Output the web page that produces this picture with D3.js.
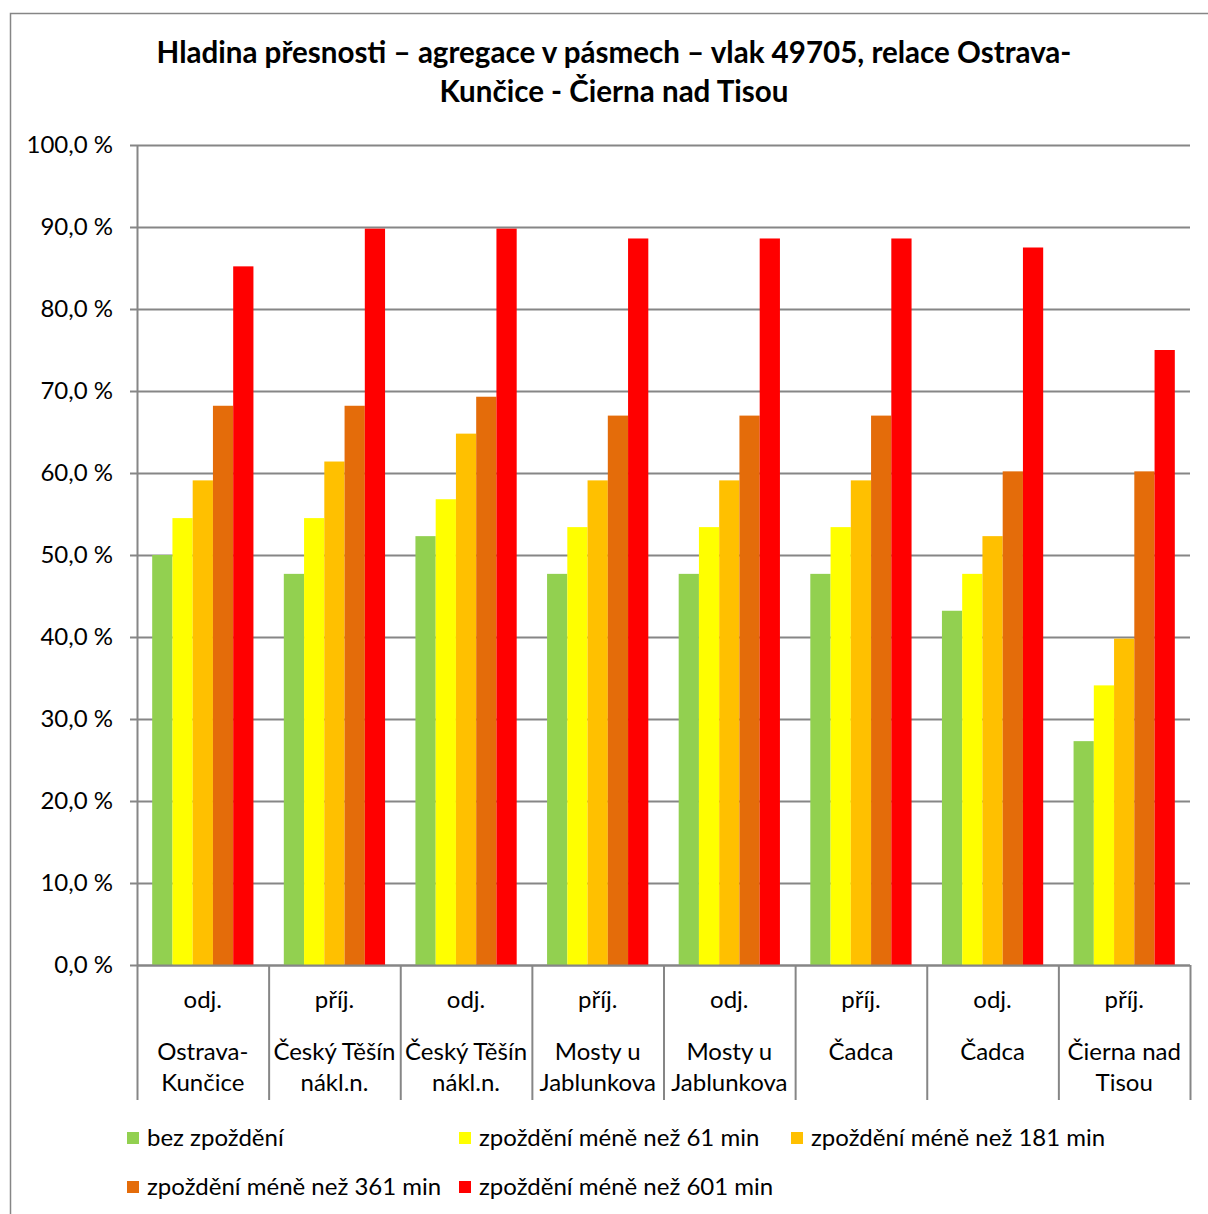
<!DOCTYPE html>
<html><head><meta charset="utf-8">
<script src="https://cdn.jsdelivr.net/npm/d3@7"></script>
<style>body{margin:0;background:#fff}svg{display:block}text{font-family:Lato,"Open Sans",sans-serif;fill:#000}</style>
</head><body><svg id="c" width="1208" height="1214"></svg>
<script>
const titleLines = ["Hladina přesnosti – agregace v pásmech – vlak 49705, relace Ostrava-", "Kunčice - Čierna nad Tisou"];
const kinds = ["odj.", "příj.", "odj.", "příj.", "odj.", "příj.", "odj.", "příj."];
const stations = [["Ostrava-","Kunčice"],["Český Těšín","nákl.n."],["Český Těšín","nákl.n."],["Mosty u","Jablunkova"],["Mosty u","Jablunkova"],["Čadca"],["Čadca"],["Čierna nad","Tisou"]];
const seriesNames = ["bez zpoždění","zpoždění méně než 61 min","zpoždění méně než 181 min","zpoždění méně než 361 min","zpoždění méně než 601 min"];
const seriesColors = ["#92D050","#FFFF00","#FFC000","#E46C0A","#FF0000"];
const bez = [50.0, 47.7, 52.3, 47.7, 47.7, 47.7, 43.2, 27.3];
const lt61 = [54.5, 54.5, 56.8, 53.4, 53.4, 53.4, 47.7, 34.1];
const lt181 = [59.1, 61.4, 64.8, 59.1, 59.1, 59.1, 52.3, 39.8];
const lt361 = [68.2, 68.2, 69.3, 67.0, 67.0, 67.0, 60.2, 60.2];
const lt601 = [85.2, 89.8, 89.8, 88.6, 88.6, 88.6, 87.5, 75.0];
const yTicks = [0,10,20,30,40,50,60,70,80,90,100];

const values = [bez, lt61, lt181, lt361, lt601];
const svg = d3.select("#c");
svg.append("rect").attr("x",10.5).attr("y",13.5).attr("width",1210).attr("height",1220).attr("fill","#fff").attr("stroke","#868686").attr("stroke-width",1.5);

const L=137, R=1190, T=145, B=965;
const FS = 24;
const y = d3.scaleLinear().domain([0,100]).range([B,T]);
const x = d3.scaleBand().domain(d3.range(kinds.length)).range([L,R]).paddingInner(0).paddingOuter(0);
const xs = d3.scaleBand().domain(d3.range(seriesNames.length)).range([0,x.bandwidth()]).paddingInner(0).paddingOuter(0.75);

// title
const tg = svg.append("g");
titleLines.forEach((t,i)=>{
  tg.append("text").attr("x",614).attr("y",63+i*39).attr("text-anchor","middle")
    .attr("font-weight","bold").attr("font-size",25).text(t);
});
const w0 = tg.select("text").node().getComputedTextLength();
tg.selectAll("text").attr("font-size", 25*915/w0);

// gridlines
const fmt = v => d3.format(".1f")(v).replace(".",",")+" %";
svg.append("g").selectAll("line").data(yTicks).join("line")
  .attr("x1",130).attr("x2",R).attr("y1",d=>Math.round(y(d))+0.5).attr("y2",d=>Math.round(y(d))+0.5)
  .attr("stroke","#868686").attr("stroke-width",2);
svg.append("g").selectAll("text").data(yTicks).join("text")
  .attr("x",113).attr("y",d=>y(d)).attr("dy","0.35em").attr("text-anchor","end").attr("font-size",FS).text(fmt);
svg.append("line").attr("x1",L+0.5).attr("x2",L+0.5).attr("y1",T).attr("y2",B).attr("stroke","#868686").attr("stroke-width",2);

// bars
const bg = svg.append("g");
values.forEach((arr,s)=>{
  bg.append("g").selectAll("rect").data(arr).join("rect")
    .attr("x",(d,i)=>x(i)+xs(s)).attr("width",xs.bandwidth())
    .attr("y",d=>y(d)).attr("height",d=>B-y(d)).attr("fill",seriesColors[s]);
});

// x axis
svg.append("line").attr("x1",L).attr("x2",R).attr("y1",B+0.5).attr("y2",B+0.5).attr("stroke","#868686").attr("stroke-width",2);
const bounds = d3.range(kinds.length+1).map(i=> i<kinds.length ? x(i) : x(i-1)+x.bandwidth());
svg.append("g").selectAll("line").data(bounds).join("line")
  .attr("x1",d=>d+0.5).attr("x2",d=>d+0.5).attr("y1",B).attr("y2",1100).attr("stroke","#868686").attr("stroke-width",2);
const cg = svg.append("g");
kinds.forEach((k,i)=>{
  const cx = x(i)+x.bandwidth()/2;
  cg.append("text").attr("x",cx).attr("y",1000).attr("dy","0.35em").attr("text-anchor","middle").attr("font-size",FS).text(k);
  stations[i].forEach((s,j)=>{
    cg.append("text").attr("x",cx).attr("y",1052+j*31).attr("dy","0.35em").attr("text-anchor","middle").attr("font-size",FS).text(s);
  });
});

// legend
const legPos = [[127,1138],[459,1138],[791,1138],[127,1187],[459,1187]];
const lg = svg.append("g");
seriesNames.forEach((n,i)=>{
  const [lx,ly] = legPos[i];
  lg.append("rect").attr("x",lx).attr("y",ly-6).attr("width",12).attr("height",12).attr("fill",seriesColors[i]);
  lg.append("text").attr("x",lx+20).attr("y",ly).attr("dy","0.35em").attr("font-size",FS).text(n);
});
</script></body></html>
